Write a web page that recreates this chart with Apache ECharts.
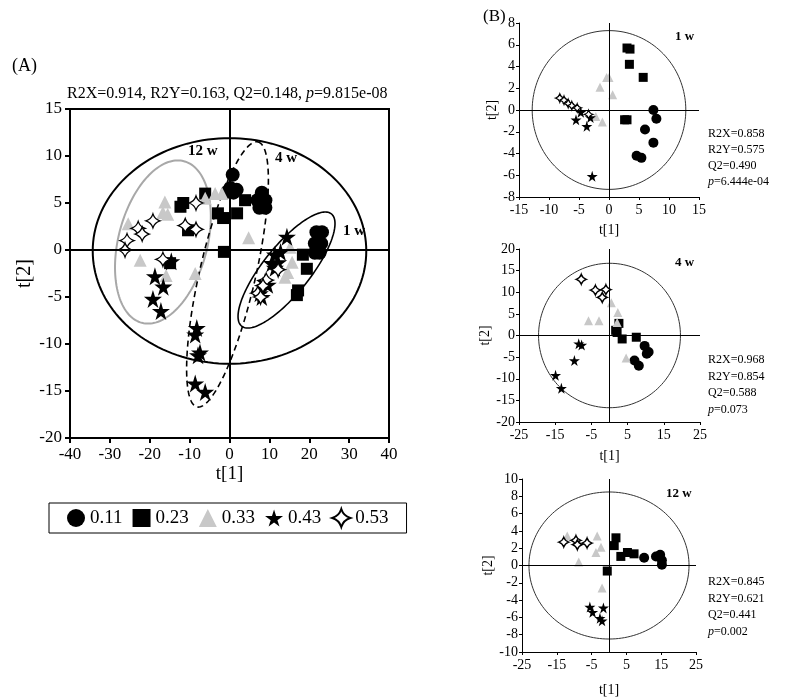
<!DOCTYPE html>
<html>
<head>
<meta charset="utf-8">
<script src="https://cdn.jsdelivr.net/npm/echarts@6/dist/echarts.min.js"></script>
<style>
  html, body { margin: 0; padding: 0; background: #fff; }
  #main { width: 803px; height: 698px; }
</style>
</head>
<body>
<div id="main"></div>
<script>
var groups = ['0.11', '0.23', '0.33', '0.43', '0.53'];

// panel A scores
var a011 = [[0.8,8.0],[0.2,6.6],[1.8,6.4],[-0.5,6.2],[1.0,6.1],[8.1,6.1],[7.0,5.3],[9.0,5.3],[7.5,4.5],[9.0,4.5],
            [21.8,1.9],[23.2,1.9],[21.4,0.7],[23.0,0.7],[21.4,-0.3],[22.6,-0.3]];
var a023 = [[-11.6,5.0],[-12.3,4.6],[-6.1,6.0],[-10.4,2.1],[-14.9,-1.4],[-2.9,3.9],[-1.6,3.4],[3.9,5.3],[1.9,3.9],
            [-1.4,-0.2],[18.4,-0.5],[19.4,-2.0],[17.2,-4.3],[16.9,-4.8]];
var a033 = [[-16.2,5.1],[-16.7,4.0],[-15.5,3.8],[-25.4,2.8],[-22.4,-1.1],[-6.1,5.5],[-3.6,6.0],[-1.9,6.0],[-15.9,-2.7],
            [-8.6,-2.5],[4.8,1.3],[15.2,0.3],[15.7,-1.3],[13.9,-2.9],[14.6,-2.4]];
var a043 = [[-18.7,-2.8],[-16.6,-3.9],[-19.2,-5.2],[-17.2,-6.5],[-14.6,-1.2],[-8.2,-8.3],[-8.6,-9.0],[-7.4,-10.9],
            [-7.9,-11.2],[-8.6,-14.2],[-6.1,-15.1],[14.4,1.4],[11.4,-0.5],[12.2,-1.3],[10.6,-1.4],[11.4,-1.9],
            [12.8,-0.2],[8.9,-3.4],[9.6,-3.7],[7.6,-4.6],[8.1,-5.0]];
var a053 = [[-19.2,3.1],[-22.9,2.3],[-21.9,1.7],[-25.7,1.0],[-26.2,0.0],[-11.1,2.6],[-8.4,2.2],[-8.4,5.0],[-16.7,-1.0],
            [12.2,-2.1],[9.2,-3.2],[8.4,-3.8],[7.1,-4.6],[7.8,-5.0]];
// ellipses: centre x, centre y, first half-axis (x, y), second half-axis (x, y)
var ellA = [[0.0,-0.1,34.3,0,0,12.0],[-16.7,0.85,5.26,8.6,10.8,-1.19],[-0.5,-2.6,7.64,14.1,6.84,-0.67],[14.3,-2.13,11.25,5.97,4.61,-1.56]];

// panel B, 1 w
var b1_011 = [[7.4,0.0],[7.9,-0.8],[6.0,-1.8],[7.4,-3.0],[4.6,-4.2],[5.4,-4.4]];
var b1_023 = [[3.0,5.7],[3.5,5.6],[3.4,4.2],[5.7,3.0],[2.6,-0.9],[3.0,-0.9]];
var b1_033 = [[-0.4,3.0],[0.0,3.0],[-1.5,2.1],[0.6,1.4],[-2.2,-0.6],[-1.1,-1.1]];
var b1_043 = [[-4.7,-0.2],[-5.5,-0.9],[-3.1,-0.7],[-3.7,-1.5],[-2.8,-6.1]];
var b1_053 = [[-8.2,1.1],[-7.5,0.9],[-6.8,0.6],[-6.2,0.4],[-5.3,0.2],[-3.4,-0.4]];
var ell1 = [[0,0,12.8,0,0,7.3]];
// panel B, 4 w
var b4_011 = [[9.7,-2.4],[10.8,-3.8],[10.3,-4.2],[6.9,-5.8],[8.1,-7.0]];
var b4_023 = [[2.6,2.8],[1.7,1.2],[2.1,0.7],[3.5,-0.8],[7.4,-0.4]];
var b4_033 = [[0.5,7.6],[2.3,5.3],[-5.8,3.4],[-2.9,3.4],[2.1,3.0],[4.6,-5.2]];
var b4_043 = [[-8.5,-1.9],[-7.7,-2.2],[-9.7,-5.8],[-14.9,-9.2],[-13.3,-12.2]];
var b4_053 = [[-7.8,13.0],[-3.9,10.5],[-1.0,10.6],[-2.0,8.8]];
var ell4 = [[0,0,19.6,0,0,16.7]];
// panel B, 12 w
var b12_011 = [[10.1,0.9],[13.5,1.05],[14.7,1.25],[15.2,0.6],[15.2,0.1]];
var b12_023 = [[2.0,3.2],[1.5,2.3],[3.4,1.05],[5.3,1.5],[7.2,1.35],[-0.5,-0.64]];
var b12_033 = [[-12.0,3.4],[-3.4,3.4],[-2.3,2.1],[-3.75,1.5],[-8.7,0.4],[-2.0,-2.6]];
var b12_043 = [[-5.5,-4.8],[-4.7,-5.4],[-1.6,-4.9],[-2.6,-6.1],[-2.0,-6.4]];
var b12_053 = [[-13.0,2.7],[-9.5,2.9],[-9.1,2.4],[-6.3,2.6]];
var ell12 = [[0,0,23.0,0,0,8.5]];

var serif = 'Liberation Serif';
var starPath = 'path://M50,0 L61,35 L98,35 L68,57 L79,91 L50,70 L21,91 L32,57 L2,35 L39,35Z';
var sparklePath = 'path://M0,-10 Q2.4,-2.4 10,0 Q2.4,2.4 0,10 Q-2.4,2.4 -10,0 Q-2.4,-2.4 0,-10Z';

var symbols = ['circle', 'rect', 'triangle', starPath, sparklePath];
var colors = ['#000', '#000', '#c8c8c8', '#000', '#fff'];

var myChart = echarts.init(document.getElementById('main'));

function scatterSet(idx, sets, sizes) {
    return sets.map(function (d, i) {
        return {
            name: groups[i],
            type: 'scatter',
            xAxisIndex: idx,
            yAxisIndex: idx,
            data: d,
            symbol: symbols[i],
            symbolSize: sizes[i],
            z: 3,
            itemStyle: {
                color: colors[i],
                borderColor: i === 4 ? '#000' : colors[i],
                borderWidth: i === 4 ? 1.3 : 0,
                opacity: 1
            }
        };
    });
}

function ellipses(idx, data, styles) {
    return {
        type: 'custom',
        xAxisIndex: idx,
        yAxisIndex: idx,
        data: data,
        dimensions: ['cx', 'cy', 'ux', 'uy', 'vx', 'vy'],
        encode: { x: 0, y: 1 },
        silent: true,
        z: 2,
        renderItem: function (params, api) {
            var cx = api.value(0), cy = api.value(1);
            var ux = api.value(2), uy = api.value(3), vx = api.value(4), vy = api.value(5);
            var pts = [];
            for (var k = 0; k <= 160; k++) {
                var t = k / 160 * Math.PI * 2;
                pts.push(api.coord([cx + ux * Math.cos(t) + vx * Math.sin(t), cy + uy * Math.cos(t) + vy * Math.sin(t)]));
            }
            var s = styles[params.dataIndex];
            return {
                type: 'polyline',
                shape: { points: pts },
                style: { stroke: s.color, lineWidth: s.width, lineDash: s.dash, fill: null }
            };
        }
    };
}

function zeroLines(idx, width) {
    return {
        type: 'scatter',
        xAxisIndex: idx,
        yAxisIndex: idx,
        data: [],
        silent: true,
        markLine: {
            silent: true,
            symbol: 'none',
            label: { show: false },
            lineStyle: { color: '#000', width: width, type: 'solid' },
            data: [{ xAxis: 0 }, { yAxis: 0 }]
        }
    };
}

function axisX(idx, min, max, interval, big, gap) {
    return {
        gridIndex: idx, type: 'value', min: min, max: max, interval: interval,
        name: 't[1]', nameLocation: 'middle', nameGap: gap,
        nameTextStyle: { fontFamily: serif, fontSize: big ? 19 : 14, color: '#000' },
        axisLine: { onZero: false, lineStyle: { color: '#000', width: big ? 2 : 1 } },
        axisTick: { length: big ? 5 : 3, lineStyle: { color: '#000', width: big ? 2 : 1 } },
        axisLabel: { fontFamily: serif, fontSize: big ? 17 : 14, color: '#000', margin: big ? 8 : 6 },
        splitLine: { show: false }
    };
}

function axisY(idx, min, max, interval, big) {
    return {
        gridIndex: idx, type: 'value', min: min, max: max, interval: interval,
        name: 't[2]', nameLocation: 'middle', nameGap: big ? 35 : 17, nameRotate: 90,
        nameTextStyle: { fontFamily: serif, fontSize: big ? 20 : 14, color: '#000' },
        axisLine: { onZero: false, lineStyle: { color: '#000', width: big ? 2 : 1 } },
        axisTick: { length: big ? 5 : 3, lineStyle: { color: '#000', width: big ? 2 : 1 } },
        axisLabel: { fontFamily: serif, fontSize: big ? 17 : 14, color: '#000', margin: big ? 8 : 4 },
        splitLine: { show: false }
    };
}

var bigEllStyles = [
    { color: '#000', width: 2, dash: null },
    { color: '#a8a8a8', width: 2, dash: null },
    { color: '#000', width: 1.6, dash: [6, 4] },
    { color: '#000', width: 1.6, dash: null }
];
var circStyle = [{ color: '#333', width: 1, dash: null }];

function txt(x, y, text, size, extra) {
    var o = { type: 'text', left: x, top: y, style: { text: text, fontFamily: serif, fontSize: size, fill: '#000' } };
    if (extra) { for (var k in extra) o.style[k] = extra[k]; }
    return o;
}

var option = {
    backgroundColor: '#fff',
    animation: false,
    grid: [
        { left: 70, top: 109, width: 319, height: 329, show: true, borderColor: '#000', borderWidth: 2 },
        { left: 519, top: 23, width: 180, height: 174 },
        { left: 519, top: 249, width: 181, height: 173 },
        { left: 522, top: 479, width: 174, height: 177 }
    ],
    xAxis: [
        axisX(0, -40, 40, 10, true, 27),
        axisX(1, -15, 15, 5, false, 26),
        axisX(2, -25, 25, 10, false, 27),
        axisX(3, -25, 25, 10, false, 31)
    ],
    yAxis: [
        axisY(0, -20, 15, 5, true),
        axisY(1, -8, 8, 2, false),
        axisY(2, -20, 20, 5, false),
        axisY(3, -10, 10, 2, false)
    ],
    legend: {
        data: groups,
        left: 49, top: 503,
        width: 358,
        padding: [5, 18, 5, 18],
        borderColor: '#000', borderWidth: 1,
        itemWidth: 18, itemHeight: 18, itemGap: 10,
        textStyle: { fontFamily: serif, fontSize: 19, color: '#000' }
    },
    graphic: [
        txt(12, 57, '(A)', 18),
        txt(483, 8, '(B)', 17),
        {
            type: 'text', left: 67, top: 86,
            style: {
                text: '{n|R2X=0.914, R2Y=0.163, Q2=0.148, }{i|p}{n|=9.815e-08}',
                rich: {
                    n: { fontFamily: serif, fontSize: 16, fill: '#000' },
                    i: { fontFamily: serif, fontSize: 16, fontStyle: 'italic', fill: '#000' }
                }
            }
        },
        txt(188, 144, '12 w', 15, { fontWeight: 'bold' }),
        txt(275, 151, '4 w', 15, { fontWeight: 'bold' }),
        txt(343, 224, '1 w', 15, { fontWeight: 'bold' }),
        txt(675, 30, '1 w', 13, { fontWeight: 'bold' }),
        txt(675, 256, '4 w', 13, { fontWeight: 'bold' }),
        txt(666, 487, '12 w', 13, { fontWeight: 'bold' }),
        {
            type: 'text', left: 708, top: 126,
            style: {
                text: 'R2X=0.858\nR2Y=0.575\nQ2=0.490\n{i|p}=6.444e-04',
                fontFamily: serif, fontSize: 12, lineHeight: 16, fill: '#000',
                rich: { i: { fontFamily: serif, fontSize: 12, fontStyle: 'italic', lineHeight: 16 } }
            }
        },
        {
            type: 'text', left: 708, top: 352,
            style: {
                text: 'R2X=0.968\nR2Y=0.854\nQ2=0.588\n{i|p}=0.073',
                fontFamily: serif, fontSize: 12, lineHeight: 16.5, fill: '#000',
                rich: { i: { fontFamily: serif, fontSize: 12, fontStyle: 'italic', lineHeight: 16.5 } }
            }
        },
        {
            type: 'text', left: 708, top: 574,
            style: {
                text: 'R2X=0.845\nR2Y=0.621\nQ2=0.441\n{i|p}=0.002',
                fontFamily: serif, fontSize: 12, lineHeight: 16.5, fill: '#000',
                rich: { i: { fontFamily: serif, fontSize: 12, fontStyle: 'italic', lineHeight: 16.5 } }
            }
        }
    ],
    series: [].concat(
        [zeroLines(0, 2), ellipses(0, ellA, bigEllStyles)],
        scatterSet(0, [a011, a023, a033, a043, a053], [14, 12, 13, 18, 14]),
        [zeroLines(1, 1), ellipses(1, ell1, circStyle)],
        scatterSet(1, [b1_011, b1_023, b1_033, b1_043, b1_053], [10, 9, 9, 11, 8]),
        [zeroLines(2, 1), ellipses(2, ell4, circStyle)],
        scatterSet(2, [b4_011, b4_023, b4_033, b4_043, b4_053], [10, 9, 9, 11, 10]),
        [zeroLines(3, 1), ellipses(3, ell12, circStyle)],
        scatterSet(3, [b12_011, b12_023, b12_033, b12_043, b12_053], [10, 9, 9, 11, 10])
    )
};

myChart.setOption(option);
</script>
</body>
</html>
